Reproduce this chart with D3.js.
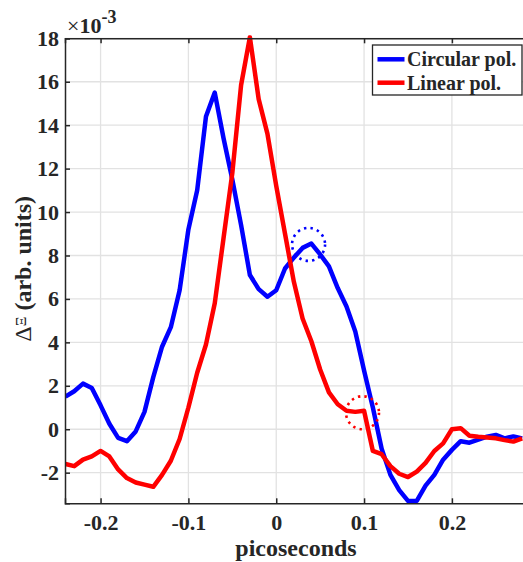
<!DOCTYPE html>
<html>
<head>
<meta charset="utf-8">
<script src="https://cdnjs.cloudflare.com/ajax/libs/d3/7.8.5/d3.min.js"></script>
<style>
  html, body { margin: 0; padding: 0; background: #fff; }
  #chart { width: 523px; height: 562px; overflow: hidden; }
  text { font-family: "Liberation Serif", "Times New Roman", serif; font-weight: bold; fill: #262626; }
</style>
</head>
<body>
<div id="chart"></div>
<script>
// time delay in picoseconds
const times = [
  -0.24, -0.23, -0.22, -0.21, -0.20, -0.19, -0.18, -0.17, -0.16, -0.15,
  -0.14, -0.13, -0.12, -0.11, -0.10, -0.09, -0.08, -0.07, -0.06, -0.05,
  -0.04, -0.03, -0.02, -0.01, 0.00, 0.01, 0.02, 0.03, 0.04, 0.05,
  0.06, 0.07, 0.08, 0.09, 0.10, 0.11, 0.12, 0.13, 0.14, 0.15,
  0.16, 0.17, 0.18, 0.19, 0.20, 0.21, 0.22, 0.23, 0.24, 0.25,
  0.26, 0.27, 0.28
];

// signal, in units of 1e-3
const circular = [
  1.5, 1.75, 2.1, 1.9, 1.1, 0.25, -0.4, -0.55, -0.1, 0.8,
  2.4, 3.8, 4.7, 6.4, 9.2, 11.0, 14.4, 15.5, 13.4, 11.5,
  9.4, 7.1, 6.45, 6.1, 6.4, 7.4, 7.9, 8.35, 8.55, 8.05,
  7.5, 6.5, 5.65, 4.5, 2.7, 1.0, -0.9, -2.1, -2.8, -3.3,
  -3.3, -2.6, -2.1, -1.4, -0.95, -0.55, -0.62, -0.48, -0.34, -0.26,
  -0.42, -0.33, -0.42
];

const linear = [
  -1.6, -1.7, -1.4, -1.25, -1.0, -1.25, -1.85, -2.25, -2.45, -2.55,
  -2.65, -2.1, -1.45, -0.45, 1.0, 2.6, 3.9, 5.8, 8.8, 11.8,
  15.85, 18.05, 15.2, 13.6, 11.2, 9.0, 6.8, 5.1, 4.05, 2.75,
  1.7, 1.15, 0.85, 0.8, 0.85, -1.0, -1.15, -1.7, -2.05, -2.2,
  -1.95, -1.55, -1.0, -0.65, 0.0, 0.05, -0.3, -0.35, -0.38, -0.42,
  -0.5, -0.57, -0.42
];

// dotted circles marking features on each curve
const markTimes = [0.0368, 0.0982];
const markValues = [8.51, 0.76];
const markSeries = ['circular', 'linear'];

const xTicks = [-0.2, -0.1, 0, 0.1, 0.2];
const yTicks = [-2, 0, 2, 4, 6, 8, 10, 12, 14, 16, 18];
const seriesNames = ['Circular pol.', 'Linear pol.'];

const colors = { circular: '#0000ff', linear: '#ff0000' };

const width = 523,
      height = 562,
      plot = { left: 65, right: 527, top: 38.3, bottom: 503.3 };

let x = d3.scaleLinear().domain([-0.2405, 0.2855]).range([plot.left, plot.right]);
let y = d3.scaleLinear().domain([-3.41, 18]).range([plot.bottom, plot.top]);

let $svg = d3.select('#chart').append('svg')
  .attr('width', width)
  .attr('height', height);

$svg.append('clipPath').attr('id', 'plot-clip')
  .append('rect')
  .attr('x', plot.left).attr('y', plot.top - 3)
  .attr('width', plot.right - plot.left).attr('height', plot.bottom - plot.top + 3);

// grid
let $grid = $svg.append('g').attr('stroke', '#e2e2e2').attr('stroke-width', 1.3);
$grid.selectAll('.vg').data(xTicks).enter().append('line')
  .attr('x1', d => x(d)).attr('x2', d => x(d))
  .attr('y1', plot.top).attr('y2', plot.bottom);
$grid.selectAll('.hg').data(yTicks).enter().append('line')
  .attr('x1', plot.left).attr('x2', plot.right)
  .attr('y1', d => y(d)).attr('y2', d => y(d));

// curves
let line = d3.line()
  .x((d, i) => x(times[i]))
  .y(d => y(d));

let $curves = $svg.append('g').attr('clip-path', 'url(#plot-clip)');
[['circular', circular], ['linear', linear]].forEach(([key, vals]) => {
  $curves.append('path')
    .datum(vals)
    .attr('d', line)
    .attr('fill', 'none')
    .attr('stroke', colors[key])
    .attr('stroke-width', 4.5)
    .attr('stroke-linejoin', 'round');
});

// dotted circles
$svg.append('g').selectAll('circle')
  .data(markTimes)
  .enter().append('circle')
  .attr('cx', d => x(d))
  .attr('cy', (d, i) => y(markValues[i]))
  .attr('r', 16.5)
  .attr('fill', 'none')
  .attr('stroke', (d, i) => colors[markSeries[i]])
  .attr('stroke-width', 2.6)
  .attr('stroke-dasharray', '2.4,4.2');

// axes
let fmt = d => String(d);

let $xAxis = $svg.append('g')
  .attr('transform', `translate(0,${plot.bottom})`)
  .call(d3.axisBottom(x).tickValues(xTicks).tickSize(-5).tickPadding(11).tickFormat(fmt));

let $xTop = $svg.append('g')
  .attr('transform', `translate(0,${plot.top})`)
  .call(d3.axisTop(x).tickValues(xTicks).tickSize(-5).tickFormat(''));

let $yAxis = $svg.append('g')
  .attr('transform', `translate(${plot.left},0)`)
  .call(d3.axisLeft(y).tickValues(yTicks).tickSize(-5).tickPadding(6).tickFormat(fmt));

[$xAxis, $xTop, $yAxis].forEach($a => {
  $a.select('.domain').attr('stroke', '#262626').attr('stroke-width', 1.5);
  $a.selectAll('.tick line').attr('stroke', '#262626').attr('stroke-width', 1.5);
  $a.selectAll('.tick text')
    .attr('fill', '#262626')
    .style('font-size', '22px')
    .style('font-family', '"Liberation Serif", serif')
    .style('font-weight', 'bold');
});

// axis labels
$svg.append('text')
  .attr('x', (plot.left + plot.right) / 2)
  .attr('y', 556)
  .attr('text-anchor', 'middle')
  .style('font-size', '24px')
  .text('picoseconds');

let $yLabel = $svg.append('text')
  .attr('transform', `translate(31,${(plot.top + plot.bottom) / 2 - 2}) rotate(-90)`)
  .attr('text-anchor', 'middle')
  .style('font-size', '24px');
$yLabel.append('tspan').style('font-weight', 'normal').text('Δ');
$yLabel.append('tspan').style('font-size', '15px').style('font-weight', 'normal').attr('dy', -5).text('Ξ');
$yLabel.append('tspan').attr('dy', 5).text(' (arb. units)');

// exponent
let $exp = $svg.append('text')
  .attr('x', 67)
  .attr('y', 33)
  .style('font-size', '22px');
$exp.append('tspan').style('font-weight', 'normal').text('×');
$exp.append('tspan').text('10');
$exp.append('tspan').attr('dy', -10).style('font-size', '18px').text('-3');

// legend
let legend = { x: 372.5, y: 45, w: 149.5, h: 50 };
let $legend = $svg.append('g');
$legend.append('rect')
  .attr('x', legend.x).attr('y', legend.y)
  .attr('width', legend.w).attr('height', legend.h)
  .attr('fill', '#fff')
  .attr('stroke', '#262626')
  .attr('stroke-width', 1.3);

let $items = $legend.selectAll('.item')
  .data(seriesNames)
  .enter().append('g')
  .attr('transform', (d, i) => `translate(${legend.x},${legend.y + 14.3 + i * 23.4})`);
$items.append('line')
  .attr('x1', 5).attr('x2', 32)
  .attr('stroke', (d, i) => colors[markSeries[i]])
  .attr('stroke-width', 4.5);
$items.append('text')
  .attr('x', 34.5)
  .attr('dy', '0.34em')
  .style('font-size', '20px')
  .text(d => d);
</script>
</body>
</html>
